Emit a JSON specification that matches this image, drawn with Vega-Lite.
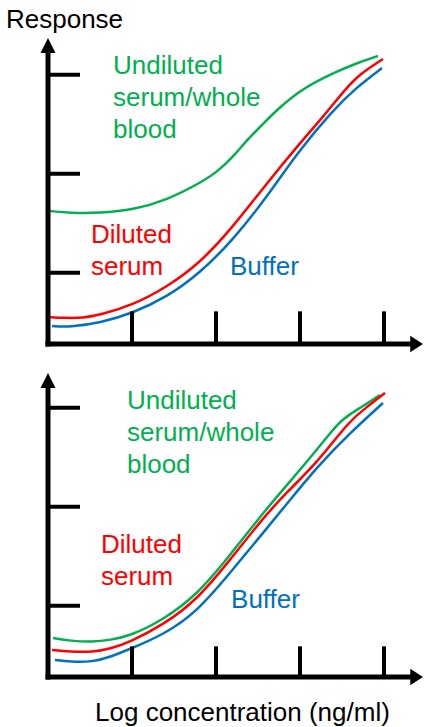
{
  "$schema": "https://vega.github.io/schema/vega-lite/v6.json",
  "padding": 0,
  "spacing": 0,
  "config": {"view": {"stroke": null}, "font": "Liberation Sans"},
  "datasets": {
    "curves": [
      {"panel": "top", "sample": "Undiluted serum/whole blood", "conc": 0.024, "response": 1.343},
      {"panel": "top", "sample": "Undiluted serum/whole blood", "conc": 0.262, "response": 1.323},
      {"panel": "top", "sample": "Undiluted serum/whole blood", "conc": 0.619, "response": 1.323},
      {"panel": "top", "sample": "Undiluted serum/whole blood", "conc": 1.012, "response": 1.354},
      {"panel": "top", "sample": "Undiluted serum/whole blood", "conc": 1.417, "response": 1.455},
      {"panel": "top", "sample": "Undiluted serum/whole blood", "conc": 1.81, "response": 1.626},
      {"panel": "top", "sample": "Undiluted serum/whole blood", "conc": 2.012, "response": 1.737},
      {"panel": "top", "sample": "Undiluted serum/whole blood", "conc": 2.202, "response": 1.889},
      {"panel": "top", "sample": "Undiluted serum/whole blood", "conc": 2.369, "response": 2.061},
      {"panel": "top", "sample": "Undiluted serum/whole blood", "conc": 2.607, "response": 2.263},
      {"panel": "top", "sample": "Undiluted serum/whole blood", "conc": 2.726, "response": 2.364},
      {"panel": "top", "sample": "Undiluted serum/whole blood", "conc": 3.0, "response": 2.566},
      {"panel": "top", "sample": "Undiluted serum/whole blood", "conc": 3.393, "response": 2.737},
      {"panel": "top", "sample": "Undiluted serum/whole blood", "conc": 3.679, "response": 2.838},
      {"panel": "top", "sample": "Undiluted serum/whole blood", "conc": 3.929, "response": 2.909},

      {"panel": "top", "sample": "Diluted serum", "conc": 0.0, "response": 0.273},
      {"panel": "top", "sample": "Diluted serum", "conc": 0.202, "response": 0.263},
      {"panel": "top", "sample": "Diluted serum", "conc": 0.417, "response": 0.263},
      {"panel": "top", "sample": "Diluted serum", "conc": 0.619, "response": 0.293},
      {"panel": "top", "sample": "Diluted serum", "conc": 1.012, "response": 0.394},
      {"panel": "top", "sample": "Diluted serum", "conc": 1.417, "response": 0.576},
      {"panel": "top", "sample": "Diluted serum", "conc": 1.81, "response": 0.818},
      {"panel": "top", "sample": "Diluted serum", "conc": 2.202, "response": 1.182},
      {"panel": "top", "sample": "Diluted serum", "conc": 2.607, "response": 1.626},
      {"panel": "top", "sample": "Diluted serum", "conc": 3.0, "response": 2.03},
      {"panel": "top", "sample": "Diluted serum", "conc": 3.274, "response": 2.293},
      {"panel": "top", "sample": "Diluted serum", "conc": 3.56, "response": 2.596},
      {"panel": "top", "sample": "Diluted serum", "conc": 3.714, "response": 2.727},
      {"panel": "top", "sample": "Diluted serum", "conc": 3.988, "response": 2.879},

      {"panel": "top", "sample": "Buffer", "conc": 0.048, "response": 0.182},
      {"panel": "top", "sample": "Buffer", "conc": 0.262, "response": 0.172},
      {"panel": "top", "sample": "Buffer", "conc": 0.619, "response": 0.212},
      {"panel": "top", "sample": "Buffer", "conc": 1.012, "response": 0.313},
      {"panel": "top", "sample": "Buffer", "conc": 1.417, "response": 0.475},
      {"panel": "top", "sample": "Buffer", "conc": 1.81, "response": 0.717},
      {"panel": "top", "sample": "Buffer", "conc": 2.202, "response": 1.051},
      {"panel": "top", "sample": "Buffer", "conc": 2.607, "response": 1.485},
      {"panel": "top", "sample": "Buffer", "conc": 2.964, "response": 1.929},
      {"panel": "top", "sample": "Buffer", "conc": 3.393, "response": 2.364},
      {"panel": "top", "sample": "Buffer", "conc": 3.679, "response": 2.596},
      {"panel": "top", "sample": "Buffer", "conc": 3.976, "response": 2.788},

      {"panel": "bottom", "sample": "Undiluted serum/whole blood", "conc": 0.06, "response": 0.394},
      {"panel": "bottom", "sample": "Undiluted serum/whole blood", "conc": 0.262, "response": 0.364},
      {"panel": "bottom", "sample": "Undiluted serum/whole blood", "conc": 0.536, "response": 0.354},
      {"panel": "bottom", "sample": "Undiluted serum/whole blood", "conc": 0.738, "response": 0.374},
      {"panel": "bottom", "sample": "Undiluted serum/whole blood", "conc": 0.976, "response": 0.414},
      {"panel": "bottom", "sample": "Undiluted serum/whole blood", "conc": 1.369, "response": 0.576},
      {"panel": "bottom", "sample": "Undiluted serum/whole blood", "conc": 1.774, "response": 0.828},
      {"panel": "bottom", "sample": "Undiluted serum/whole blood", "conc": 2.167, "response": 1.232},
      {"panel": "bottom", "sample": "Undiluted serum/whole blood", "conc": 2.56, "response": 1.657},
      {"panel": "bottom", "sample": "Undiluted serum/whole blood", "conc": 2.845, "response": 1.939},
      {"panel": "bottom", "sample": "Undiluted serum/whole blood", "conc": 3.202, "response": 2.293},
      {"panel": "bottom", "sample": "Undiluted serum/whole blood", "conc": 3.476, "response": 2.596},
      {"panel": "bottom", "sample": "Undiluted serum/whole blood", "conc": 3.679, "response": 2.697},
      {"panel": "bottom", "sample": "Undiluted serum/whole blood", "conc": 3.952, "response": 2.848},

      {"panel": "bottom", "sample": "Diluted serum", "conc": 0.048, "response": 0.273},
      {"panel": "bottom", "sample": "Diluted serum", "conc": 0.262, "response": 0.253},
      {"panel": "bottom", "sample": "Diluted serum", "conc": 0.536, "response": 0.253},
      {"panel": "bottom", "sample": "Diluted serum", "conc": 0.738, "response": 0.283},
      {"panel": "bottom", "sample": "Diluted serum", "conc": 0.976, "response": 0.354},
      {"panel": "bottom", "sample": "Diluted serum", "conc": 1.369, "response": 0.525},
      {"panel": "bottom", "sample": "Diluted serum", "conc": 1.774, "response": 0.778},
      {"panel": "bottom", "sample": "Diluted serum", "conc": 2.167, "response": 1.182},
      {"panel": "bottom", "sample": "Diluted serum", "conc": 2.56, "response": 1.606},
      {"panel": "bottom", "sample": "Diluted serum", "conc": 2.845, "response": 1.869},
      {"panel": "bottom", "sample": "Diluted serum", "conc": 3.202, "response": 2.162},
      {"panel": "bottom", "sample": "Diluted serum", "conc": 3.595, "response": 2.596},
      {"panel": "bottom", "sample": "Diluted serum", "conc": 3.798, "response": 2.727},
      {"panel": "bottom", "sample": "Diluted serum", "conc": 4.012, "response": 2.869},

      {"panel": "bottom", "sample": "Buffer", "conc": 0.083, "response": 0.172},
      {"panel": "bottom", "sample": "Buffer", "conc": 0.262, "response": 0.152},
      {"panel": "bottom", "sample": "Buffer", "conc": 0.536, "response": 0.152},
      {"panel": "bottom", "sample": "Buffer", "conc": 0.738, "response": 0.202},
      {"panel": "bottom", "sample": "Buffer", "conc": 0.976, "response": 0.283},
      {"panel": "bottom", "sample": "Buffer", "conc": 1.369, "response": 0.424},
      {"panel": "bottom", "sample": "Buffer", "conc": 1.774, "response": 0.657},
      {"panel": "bottom", "sample": "Buffer", "conc": 2.167, "response": 1.051},
      {"panel": "bottom", "sample": "Buffer", "conc": 2.56, "response": 1.455},
      {"panel": "bottom", "sample": "Buffer", "conc": 2.881, "response": 1.788},
      {"panel": "bottom", "sample": "Buffer", "conc": 3.202, "response": 2.121},
      {"panel": "bottom", "sample": "Buffer", "conc": 3.595, "response": 2.465},
      {"panel": "bottom", "sample": "Buffer", "conc": 3.988, "response": 2.768}
    ],
    "labels": [
      {"panel": "top", "sample": "Undiluted serum/whole blood", "label": "Undiluted\nserum/whole\nblood", "conc": 0.774, "response": 2.727},
      {"panel": "top", "sample": "Diluted serum", "label": "Diluted\nserum", "conc": 0.512, "response": 1.02},
      {"panel": "top", "sample": "Buffer", "label": "Buffer", "conc": 2.167, "response": 0.697},
      {"panel": "bottom", "sample": "Undiluted serum/whole blood", "label": "Undiluted\nserum/whole\nblood", "conc": 0.94, "response": 2.707},
      {"panel": "bottom", "sample": "Diluted serum", "label": "Diluted\nserum", "conc": 0.631, "response": 1.253},
      {"panel": "bottom", "sample": "Buffer", "label": "Buffer", "conc": 2.179, "response": 0.697}
    ],
    "titles": [
      {"panel": "top", "label": "Response", "conc": -0.5, "response": 3.192},
      {"panel": "bottom", "label": "Log concentration (ng/ml)", "conc": 0.56, "response": -0.444}
    ],
    "axes": [
      {"panel": "top", "axis": "response", "conc": 0, "response": 0, "conc_end": 0, "response_end": 3.0},
      {"panel": "top", "axis": "concentration", "conc": 0, "response": 0, "conc_end": 4.357, "response_end": 0},
      {"panel": "bottom", "axis": "response", "conc": 0, "response": 0, "conc_end": 0, "response_end": 2.98},
      {"panel": "bottom", "axis": "concentration", "conc": 0, "response": 0, "conc_end": 4.357, "response_end": 0}
    ],
    "arrows": [
      {"panel": "top", "axis": "response", "conc": 0, "response": 3.09},
      {"panel": "top", "axis": "concentration", "conc": 4.464, "response": 0},
      {"panel": "bottom", "axis": "response", "conc": 0, "response": 3.07},
      {"panel": "bottom", "axis": "concentration", "conc": 4.464, "response": 0}
    ],
    "yticks": [
      {"panel": "top", "response": 0.72},
      {"panel": "top", "response": 1.72},
      {"panel": "top", "response": 2.72},
      {"panel": "bottom", "response": 0.72},
      {"panel": "bottom", "response": 1.72},
      {"panel": "bottom", "response": 2.72}
    ],
    "xticks": [
      {"panel": "top", "conc": 1},
      {"panel": "top", "conc": 2},
      {"panel": "top", "conc": 3},
      {"panel": "top", "conc": 4},
      {"panel": "bottom", "conc": 1},
      {"panel": "bottom", "conc": 2},
      {"panel": "bottom", "conc": 3},
      {"panel": "bottom", "conc": 4}
    ]
  },
  "vconcat": [
    {
      "width": 425,
      "height": 360,
      "layer": [
        {
          "data": {"name": "curves"},
          "transform": [{"filter": "datum.panel === 'top'"}],
          "mark": {"type": "line", "strokeWidth": 2.5, "interpolate": "basis"},
          "encoding": {
            "x": {"field": "conc", "type": "quantitative", "scale": {"domain": [-0.5714, 4.4881], "nice": false, "zero": false}, "axis": null},
            "y": {"field": "response", "type": "quantitative", "scale": {"domain": [-0.1616, 3.4747], "nice": false, "zero": false}, "axis": null},
            "color": {"field": "sample", "type": "nominal", "scale": {"domain": ["Undiluted serum/whole blood", "Diluted serum", "Buffer"], "range": ["#00B050", "#FF0000", "#0070C0"]}, "legend": null},
            "order": {"field": "conc", "type": "quantitative"}
          }
        },
        {
          "data": {"name": "axes"},
          "transform": [{"filter": "datum.panel === 'top'"}],
          "mark": {"type": "rule", "strokeWidth": 5, "strokeCap": "square", "color": "#000000"},
          "encoding": {
            "x": {"field": "conc", "type": "quantitative", "axis": null},
            "y": {"field": "response", "type": "quantitative", "axis": null},
            "x2": {"field": "conc_end"},
            "y2": {"field": "response_end"}
          }
        },
        {
          "data": {"name": "yticks"},
          "transform": [{"filter": "datum.panel === 'top'"}],
          "mark": {"type": "rule", "strokeWidth": 4, "color": "#000000"},
          "encoding": {
            "y": {"field": "response", "type": "quantitative", "axis": null},
            "x": {"datum": 0, "type": "quantitative", "axis": null},
            "x2": {"datum": 0.381}
          }
        },
        {
          "data": {"name": "xticks"},
          "transform": [{"filter": "datum.panel === 'top'"}],
          "mark": {"type": "rule", "strokeWidth": 4, "color": "#000000"},
          "encoding": {
            "x": {"field": "conc", "type": "quantitative", "axis": null},
            "y": {"datum": 0, "type": "quantitative", "axis": null},
            "y2": {"datum": 0.33}
          }
        },
        {
          "data": {"name": "arrows"},
          "transform": [{"filter": "datum.panel === 'top'"}],
          "mark": {"type": "point", "filled": true, "opacity": 1, "size": 900, "color": "#000000", "strokeWidth": 0},
          "encoding": {
            "x": {"field": "conc", "type": "quantitative", "axis": null},
            "y": {"field": "response", "type": "quantitative", "axis": null},
            "shape": {"field": "axis", "type": "nominal", "scale": {"domain": ["response", "concentration"], "range": ["M0,0L-0.5,1L0.5,1Z", "M0,0L-0.85,-0.55L-0.85,0.55Z"]}, "legend": null}
          }
        },
        {
          "data": {"name": "labels"},
          "transform": [{"filter": "datum.panel === 'top'"}],
          "mark": {"type": "text", "align": "left", "baseline": "alphabetic", "fontSize": 26, "lineBreak": "\n", "lineHeight": 32, "font": "Liberation Sans"},
          "encoding": {
            "x": {"field": "conc", "type": "quantitative", "axis": null},
            "y": {"field": "response", "type": "quantitative", "axis": null},
            "text": {"field": "label"},
            "color": {"field": "sample", "type": "nominal", "scale": {"domain": ["Undiluted serum/whole blood", "Diluted serum", "Buffer"], "range": ["#00B050", "#FF0000", "#0070C0"]}, "legend": null}
          }
        },
        {
          "data": {"name": "titles"},
          "transform": [{"filter": "datum.panel === 'top'"}],
          "mark": {"type": "text", "align": "left", "baseline": "alphabetic", "fontSize": 26, "color": "#000000", "font": "Liberation Sans"},
          "encoding": {
            "x": {"field": "conc", "type": "quantitative", "axis": null},
            "y": {"field": "response", "type": "quantitative", "axis": null},
            "text": {"field": "label"}
          }
        }
      ]
    },
    {
      "width": 425,
      "height": 367,
      "layer": [
        {
          "data": {"name": "curves"},
          "transform": [{"filter": "datum.panel === 'bottom'"}],
          "mark": {"type": "line", "strokeWidth": 2.5, "interpolate": "basis"},
          "encoding": {
            "x": {"field": "conc", "type": "quantitative", "scale": {"domain": [-0.5714, 4.4881], "nice": false, "zero": false}, "axis": null},
            "y": {"field": "response", "type": "quantitative", "scale": {"domain": [-0.5051, 3.202], "nice": false, "zero": false}, "axis": null},
            "color": {"field": "sample", "type": "nominal", "scale": {"domain": ["Undiluted serum/whole blood", "Diluted serum", "Buffer"], "range": ["#00B050", "#FF0000", "#0070C0"]}, "legend": null},
            "order": {"field": "conc", "type": "quantitative"}
          }
        },
        {
          "data": {"name": "axes"},
          "transform": [{"filter": "datum.panel === 'bottom'"}],
          "mark": {"type": "rule", "strokeWidth": 5, "strokeCap": "square", "color": "#000000"},
          "encoding": {
            "x": {"field": "conc", "type": "quantitative", "axis": null},
            "y": {"field": "response", "type": "quantitative", "axis": null},
            "x2": {"field": "conc_end"},
            "y2": {"field": "response_end"}
          }
        },
        {
          "data": {"name": "yticks"},
          "transform": [{"filter": "datum.panel === 'bottom'"}],
          "mark": {"type": "rule", "strokeWidth": 4, "color": "#000000"},
          "encoding": {
            "y": {"field": "response", "type": "quantitative", "axis": null},
            "x": {"datum": 0, "type": "quantitative", "axis": null},
            "x2": {"datum": 0.381}
          }
        },
        {
          "data": {"name": "xticks"},
          "transform": [{"filter": "datum.panel === 'bottom'"}],
          "mark": {"type": "rule", "strokeWidth": 4, "color": "#000000"},
          "encoding": {
            "x": {"field": "conc", "type": "quantitative", "axis": null},
            "y": {"datum": 0, "type": "quantitative", "axis": null},
            "y2": {"datum": 0.31}
          }
        },
        {
          "data": {"name": "arrows"},
          "transform": [{"filter": "datum.panel === 'bottom'"}],
          "mark": {"type": "point", "filled": true, "opacity": 1, "size": 900, "color": "#000000", "strokeWidth": 0},
          "encoding": {
            "x": {"field": "conc", "type": "quantitative", "axis": null},
            "y": {"field": "response", "type": "quantitative", "axis": null},
            "shape": {"field": "axis", "type": "nominal", "scale": {"domain": ["response", "concentration"], "range": ["M0,0L-0.5,1L0.5,1Z", "M0,0L-0.85,-0.55L-0.85,0.55Z"]}, "legend": null}
          }
        },
        {
          "data": {"name": "labels"},
          "transform": [{"filter": "datum.panel === 'bottom'"}],
          "mark": {"type": "text", "align": "left", "baseline": "alphabetic", "fontSize": 26, "lineBreak": "\n", "lineHeight": 32, "font": "Liberation Sans"},
          "encoding": {
            "x": {"field": "conc", "type": "quantitative", "axis": null},
            "y": {"field": "response", "type": "quantitative", "axis": null},
            "text": {"field": "label"},
            "color": {"field": "sample", "type": "nominal", "scale": {"domain": ["Undiluted serum/whole blood", "Diluted serum", "Buffer"], "range": ["#00B050", "#FF0000", "#0070C0"]}, "legend": null}
          }
        },
        {
          "data": {"name": "titles"},
          "transform": [{"filter": "datum.panel === 'bottom'"}],
          "mark": {"type": "text", "align": "left", "baseline": "alphabetic", "fontSize": 26, "color": "#000000", "font": "Liberation Sans"},
          "encoding": {
            "x": {"field": "conc", "type": "quantitative", "axis": null},
            "y": {"field": "response", "type": "quantitative", "axis": null},
            "text": {"field": "label"}
          }
        }
      ]
    }
  ]
}
